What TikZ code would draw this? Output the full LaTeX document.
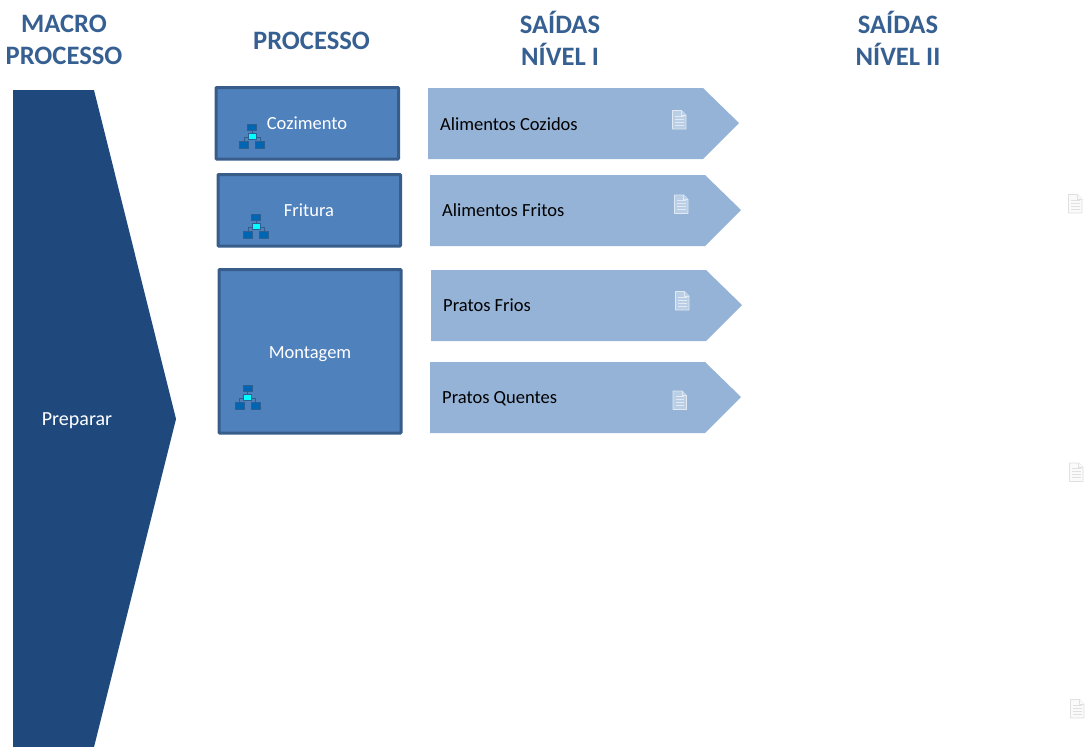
\documentclass[tikz,border=0pt]{standalone}
\usepackage{fontspec}
\setmainfont{Carlito}
\definecolor{macrofill}{HTML}{1F497D}
\definecolor{procfill}{HTML}{4F81BD}
\definecolor{procline}{HTML}{385D8A}
\definecolor{outfill}{HTML}{95B3D7}
\definecolor{headcol}{HTML}{376092}
\definecolor{netdark}{HTML}{0066B3}
\definecolor{netline}{HTML}{2F5F8F}
\definecolor{netcyan}{HTML}{00FFFF}
\tikzset{
  headtext/.style={font=\fontsize{26.6}{32}\selectfont\bfseries,text=headcol,align=center,inner sep=0pt},
  proctext/.style={font=\fontsize{18.5}{20}\selectfont,text=white,inner sep=0pt},
  outtext/.style={font=\fontsize{18.5}{20}\selectfont,text=black,inner sep=0pt,anchor=west},
  procbox/.style={draw=procline,fill=procfill,line width=3pt,rounded corners=0.8pt},
  outshape/.style={fill=outfill},
  netnode/.style={draw=netline,fill=netdark,line width=0.5pt},
  netmid/.style={draw=netline,fill=netcyan,line width=0.5pt},
  netlink/.style={draw=netline,line width=0.7pt},
  docicon/.pic={
    \draw[pic actions,line width=0.9pt,line join=round] (-6.5,-9) -- (2.5,-9) -- (7,-4.5) -- (7,9.5) -- (-6.5,9.5) -- cycle;
    \draw[pic actions,line width=0.7pt] (2.5,-9) -- (2.5,-4.5) -- (7,-4.5);
    \foreach \yy in {-3.5,-0.5,2.5,5.5}
      \draw[pic actions,line width=0.9pt] (-4,\yy) -- (4.5,\yy);
  },
  netpic/.pic={
    \draw[netlink] (0,-8) -- (0,0) (-8,8) -- (-8,1) -- (8,1) -- (8,8);
    \draw[netnode] (-4.5,-12) rectangle (4.5,-6);
    \draw[netnode] (-12.5,5.5) rectangle (-3.5,12);
    \draw[netnode] (3.5,5.5) rectangle (12.5,12);
    \draw[netmid] (-4,-3) rectangle (4,3);
  }
}
\begin{document}
\begin{tikzpicture}[x=1pt,y=-1pt]
\useasboundingbox (0,0) rectangle (1085,747);
% headers
\node[headtext] (hmacro) at (64,39.5) {MACRO\\PROCESSO};
\node[headtext] (hproc) at (311.5,40.5) {PROCESSO};
\node[headtext] (hs1) at (560,38.5) {SAÍDAS\\NÍVEL I};
\node[headtext] (hs2) at (898,38.5) {SAÍDAS\\NÍVEL II};
% macro shape
\fill[macrofill] (13,90) -- (94,90) -- (176,419) -- (94,747) -- (13,747) -- cycle;
\node[proctext,font=\fontsize{20}{22}\selectfont] (preparar) at (77,420.5) {Preparar};
% process boxes
\draw[procbox] (216,87.5) rectangle (398.5,159);
\draw[procbox] (218,174.5) rectangle (400.5,246);
\draw[procbox] (219,269.5) rectangle (401,433);
\node[proctext] (coz) at (307,123.3) {Cozimento};
\node[proctext] (fri) at (309,210.3) {Fritura};
\node[proctext] (mon) at (310,354) {Montagem};
\pic at (252,136) {netpic};
\pic at (256,226) {netpic};
\pic at (247.5,397) {netpic};
% outputs
\fill[outshape] (428,88) -- (703,88) -- (739,123) -- (703,159) -- (428,159) -- cycle;
\fill[outshape] (430,175) -- (705,175) -- (741,210) -- (705,246) -- (430,246) -- cycle;
\fill[outshape] (431,270) -- (706,270) -- (742,305) -- (706,341) -- (431,341) -- cycle;
\fill[outshape] (430,362) -- (705,362) -- (741,397) -- (705,433) -- (430,433) -- cycle;
\node[outtext] (o1) at (440,124) {Alimentos Cozidos};
\node[outtext] (o2) at (442,210.5) {Alimentos Fritos};
\node[outtext] (o3) at (443,305.5) {Pratos Frios};
\node[outtext] (o4) at (442,398.5) {Pratos Quentes};
\pic[draw=white!72!outfill,fill=white!35!outfill] at (679,119.5) {docicon};
\pic[draw=white!72!outfill,fill=white!35!outfill] at (681,204) {docicon};
\pic[draw=white!72!outfill,fill=white!35!outfill] at (682,300.5) {docicon};
\pic[draw=white!72!outfill,fill=white!35!outfill] at (679.5,400) {docicon};
% faint icons
\pic[draw=black!12,fill=black!2] at (1075,203.5) {docicon};
\pic[draw=black!12,fill=black!2] at (1076,472) {docicon};
\pic[draw=black!12,fill=black!2] at (1077,708.5) {docicon};
\end{tikzpicture}
\end{document}
